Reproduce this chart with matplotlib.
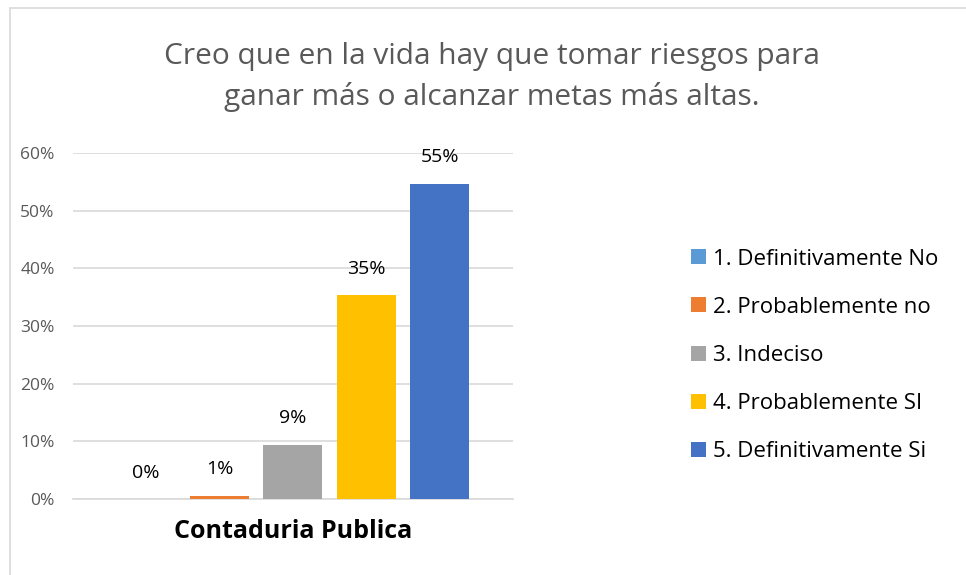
import numpy as np
import matplotlib.pyplot as plt
from matplotlib.patches import Rectangle

# survey answers (share of respondents)
categorias = ['1. Definitivamente No', '2. Probablemente no', '3. Indeciso',
              '4. Probablemente SI', '5. Definitivamente Si']
valores = [0.0, 0.006, 0.094, 0.353, 0.547]
etiquetas = ['0%', '1%', '9%', '35%', '55%']
colores = ['#5B9BD5', '#ED7D31', '#A5A5A5', '#FFC000', '#4472C4']
grupo = 'Contaduria Publica'
titulo = 'Creo que en la vida hay que tomar riesgos para\nganar más o alcanzar metas más altas.'

plt.rcParams['font.family'] = ['Open Sans', 'DejaVu Sans']

fig = plt.figure(figsize=(9.66, 5.75), dpi=100)
ax = fig.add_axes([0.0753, 0.132, 0.4557, 0.602])

x = np.arange(len(valores))
bars = ax.bar(x, valores, width=0.8, color=colores, label=categorias, zorder=3)

for xi, v, t in zip(x, valores, etiquetas):
    ax.annotate(t, (xi, v), xytext=(0, 19), textcoords='offset points',
                ha='center', va='center', fontsize=14, color='#000000')

ax.set_xlim(-1, 5)
ax.set_ylim(0, 0.6)
ax.set_yticks(np.arange(0, 0.61, 0.1))
ax.set_yticklabels([f'{int(round(v*100))}%' for v in np.arange(0, 0.61, 0.1)])
ax.tick_params(axis='y', length=0, pad=13, labelsize=12.5, labelcolor='#595959')
ax.set_xticks([2])
ax.set_xticklabels([grupo], fontsize=18, fontweight='bold')
ax.tick_params(axis='x', length=0, pad=14)
ax.grid(axis='y', color='#D9D9D9', linewidth=1.2, zorder=0)
for s in ['top', 'right', 'left']:
    ax.spines[s].set_visible(False)
ax.spines['bottom'].set_color('#D9D9D9')
ax.spines['bottom'].set_linewidth(1.2)

fig.text(0.509, 0.866, titulo, ha='center', va='center', fontsize=21.5,
         color='#595959', linespacing=1.5)

fig.legend(handles=bars, labels=categorias, loc='center left',
           bbox_to_anchor=(0.695, 0.382), frameon=False, fontsize=16,
           handlelength=0.66, handleheight=0.66, handletextpad=0.3,
           labelspacing=1.22)

# outer chart border (clipped on the right and bottom in the original)
fig.patches.append(Rectangle((10 / 966, -0.1), 1.2, 1 - 8 / 575 + 0.1,
                             transform=fig.transFigure, fill=False,
                             edgecolor='#D9D9D9', linewidth=1.2))

fig.savefig('out.png', dpi=100)
